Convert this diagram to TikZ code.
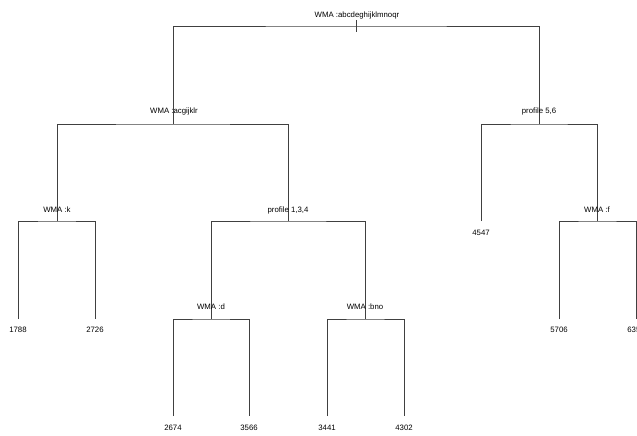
\documentclass[tikz,border=0pt]{standalone}
\usepackage{fontspec}
\setmainfont{Liberation Sans}
\usepackage{tikz}

\begin{document}
\begin{tikzpicture}[x = 1pt, y = -1pt,
  branch/.style = {line width = 0.8pt, color = black!75},
  split/.style = {font = \fontsize{7.8}{9}\selectfont, inner sep = 0pt},
  leaf/.style = {font = \fontsize{7.8}{9}\selectfont, inner sep = 0pt}]
\useasboundingbox (0, 0) rectangle (637, 436);
\clip (0, 0) rectangle (637, 436);
%\draw[very thin, color = gray](0, 0) grid[step = 50] (637, 436);
% split points
\coordinate (n0) at (356, 26);
\coordinate (n1) at (173, 124);
\coordinate (n2) at (539, 124);
\coordinate (n11) at (57, 221);
\coordinate (n12) at (288, 221);
\coordinate (n22) at (597, 221);
\coordinate (n121) at (211, 319);
\coordinate (n122) at (365, 319);
% leaves
\coordinate (n21) at (481, 221);
\coordinate (n111) at (18, 319);
\coordinate (n112) at (95, 319);
\coordinate (n221) at (559, 319);
\coordinate (n222) at (636, 319);
\coordinate (n1211) at (173, 416);
\coordinate (n1212) at (249, 416);
\coordinate (n1221) at (327, 416);
\coordinate (n1222) at (404, 416);
% branches
\draw [branch] (n1) |- (n0) -| (n2);
\draw [branch] (n0) ++(0, -6) -- ++(0, 12);
\draw [branch] (n11) |- (n1) -| (n12);
\draw [branch] (n21) |- (n2) -| (n22);
\draw [branch] (n111) |- (n11) -| (n112);
\draw [branch] (n121) |- (n12) -| (n122);
\draw [branch] (n221) |- (n22) -| (n222);
\draw [branch] (n1211) |- (n121) -| (n1212);
\draw [branch] (n1221) |- (n122) -| (n1222);
% split labels
\node [split] (s0) at (357, 15) {WMA :abcdeghijklmnoqr};
\node [split] (s1) at (174, 111) {WMA :acgijklr};
\node [split] (s2) at (539, 111) {profile 5,6};
\node [split] (s11) at (57, 210) {WMA :k};
\node [split] (s12) at (288, 210) {profile 1,3,4};
\node [split] (s22) at (597, 210) {WMA :f};
\node [split] (s121) at (211, 307) {WMA :d};
\node [split] (s122) at (365, 307) {WMA :bno};
% leaf labels
\node [leaf] (t21) at (481, 233) {4547};
\node [leaf] (t111) at (18, 330) {1788};
\node [leaf] (t112) at (95, 330) {2726};
\node [leaf] (t221) at (559, 330) {5706};
\node [leaf] (t222) at (636, 330) {635\phantom{0}};
\node [leaf] (t1211) at (173, 428) {2674};
\node [leaf] (t1212) at (249, 428) {3566};
\node [leaf] (t1221) at (327, 428) {3441};
\node [leaf] (t1222) at (404, 428) {4302};
\end{tikzpicture}
\end{document}
